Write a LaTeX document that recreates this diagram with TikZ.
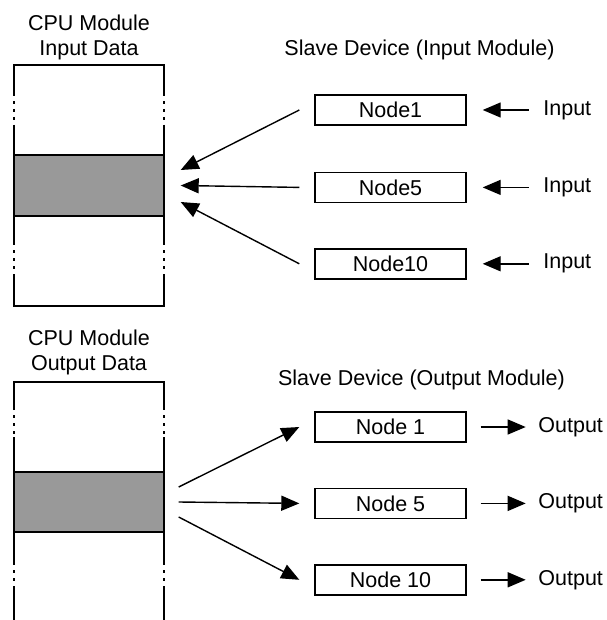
\documentclass[tikz,border=0pt]{standalone}
\usepackage{fontspec}
\setmainfont{Liberation Sans}
\usepackage{tikz}
\usetikzlibrary{positioning}
\usetikzlibrary{arrows.meta}
\definecolor{BandGray}{RGB}{153,153,153}
\tikzset{
  % slave boxes
  slave/.style={draw,minimum width=151pt,minimum height=30pt,inner sep=0pt},
  % shaded part of the data memory
  area/.style={draw,fill=BandGray,minimum width=150pt,minimum height=61pt,inner sep=0pt},
  % broken part of the memory sides
  gapline/.style={dash pattern=on 3pt off 5pt,dash phase=3pt},
  % data flow arrows with big filled heads
  flow/.style={-{Triangle[length=18pt,width=15pt]}},
  lbl/.style={inner sep=0pt},
  memtitle/.style={align=center,anchor=base,inner sep=0pt},
}

\begin{document}
\begin{tikzpicture}[x=1pt,y=-1pt,line width=1.4pt,font=\fontsize{21.5}{25}\selectfont]
  \useasboundingbox (0,0) rectangle (606,620);

  % input side
  \node[memtitle] (InMem) at (89,56) {CPU Module\\Input Data};
  \draw (14,96) |- (164,65) -- (164,96);
  \draw (14,275) |- (164,306) -- (164,275);
  \foreach \x in {14,164} {
    \draw (\x,125) -- (\x,155) (\x,216) -- (\x,245);
    \draw[gapline] (\x,96) -- (\x,125) (\x,245) -- (\x,275);
  }
  \node[area] (InBand) at (89,185.5) {};

  \node[anchor=base] (InTitle) at (419.5,56) {Slave Device (Input Module)};
  \node[slave] (N1) at (390.5,110) {Node1};
  \node[slave,below=46pt of N1] (N5) {Node5};
  \node[slave,below=45pt of N5] (N10) {Node10};

  \node[lbl,right=76pt of N1] (I1) {Input};
  \node[lbl,right=76pt of N5] (I5) {Input};
  \node[lbl,right=76pt of N10] (I10) {Input};

  \draw[flow] ([xshift=-14pt]I1.west) -- ([xshift=16pt]N1.east);
  \draw[flow] ([xshift=-14pt]I5.west) -- ([xshift=16pt]N5.east);
  \draw[flow] ([xshift=-14pt]I10.west) -- ([xshift=16pt]N10.east);

  \draw[flow] ([xshift=-15pt]N1.west) -- ([xshift=16pt,yshift=15.5pt]InBand.east);
  \draw[flow] ([xshift=-15pt]N5.west) -- ([xshift=16pt]InBand.east);
  \draw[flow] ([xshift=-15pt]N10.west) -- ([xshift=16pt,yshift=-16.5pt]InBand.east);

  % output side
  \node[memtitle] (OutMem) at (89,370) {CPU Module\\Output Data};
  \draw (14,410) |- (164,382) -- (164,410);
  \foreach \x in {14,164} {
    \draw (\x,437) -- (\x,472) (\x,532) -- (\x,565) (\x,588) -- (\x,620);
    \draw[gapline] (\x,410) -- (\x,437) (\x,565) -- (\x,588);
  }
  \node[area,minimum height=60pt] (OutBand) at (89,502) {};

  \node[anchor=base] (OutTitle) at (421.5,385) {Slave Device (Output Module)};
  \node[slave] (M1) at (390.5,427) {Node 1};
  \node[slave,below=45pt of M1] (M5) {Node 5};
  \node[slave,below=45pt of M5] (M10) {Node 10};

  \node[lbl,right=71pt of M1] (O1) {Output};
  \node[lbl,right=71pt of M5] (O5) {Output};
  \node[lbl,right=71pt of M10] (O10) {Output};

  \draw[flow] ([xshift=14pt]M1.east) -- ([xshift=-12pt]O1.west);
  \draw[flow] ([xshift=14pt]M5.east) -- ([xshift=-12pt]O5.west);
  \draw[flow] ([xshift=14pt]M10.east) -- ([xshift=-12pt]O10.west);

  \draw[flow] ([xshift=14pt,yshift=15pt]OutBand.east) -- ([xshift=-15pt]M1.west);
  \draw[flow] ([xshift=14pt]OutBand.east) -- ([xshift=-15pt]M5.west);
  \draw[flow] ([xshift=14pt,yshift=-15pt]OutBand.east) -- ([xshift=-15pt]M10.west);
\end{tikzpicture}
\end{document}
